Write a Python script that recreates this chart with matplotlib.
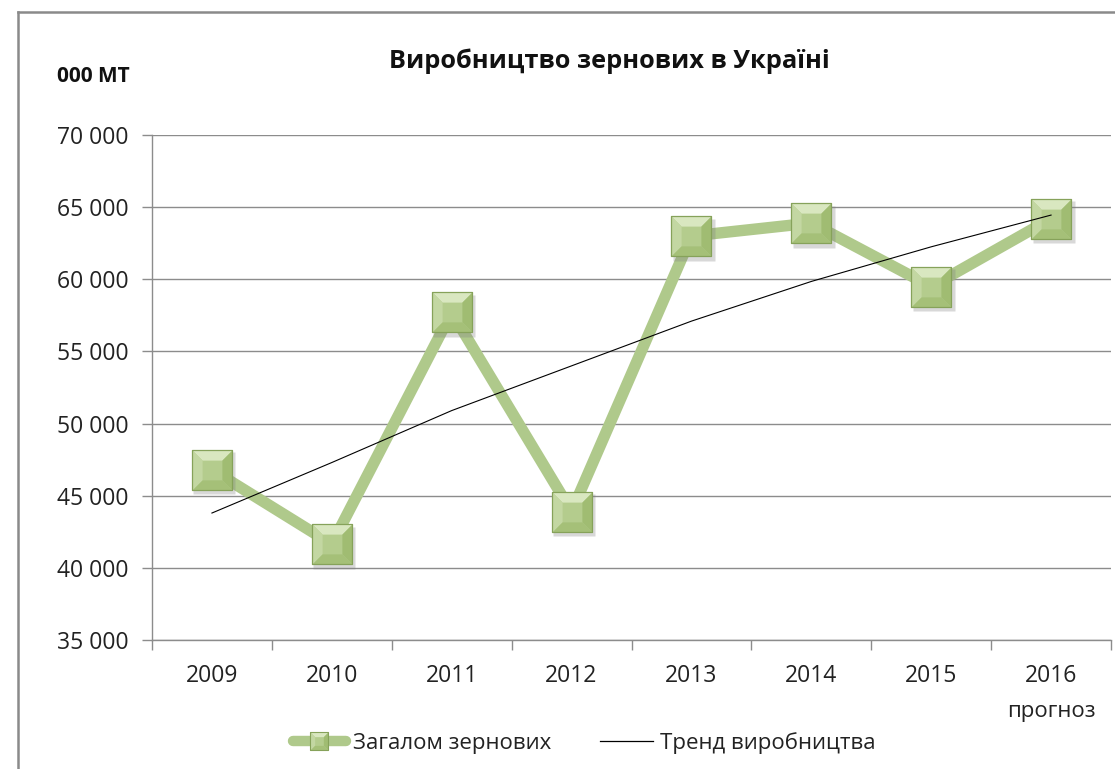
import matplotlib
matplotlib.use("Agg")
import matplotlib.pyplot as plt
import numpy as np
from matplotlib.path import Path
from matplotlib.lines import Line2D
from matplotlib.legend_handler import HandlerTuple
from matplotlib.ticker import FuncFormatter, FixedLocator
import matplotlib.transforms as mtransforms

plt.rcParams['font.family'] = ['Open Sans', 'DejaVu Sans']

# ---- data ----
years = ['2009', '2010', '2011', '2012', '2013', '2014', '2015', '2016']
production = [46800, 41650, 57700, 43900, 63000, 63900, 59500, 64200]
trend = [43800, 47300, 50900, 54000, 57100, 59850, 62250, 64450]
title = 'Виробництво зернових в Україні'
unit_label = '000 МТ'
series_label = 'Загалом зернових'
trend_label = 'Тренд виробництва'
forecast_note = 'прогноз'
y_ticks = [35000, 40000, 45000, 50000, 55000, 60000, 65000, 70000]

W, H = 1115, 769
fig = plt.figure(figsize=(W / 100, H / 100), dpi=100)
fig.patch.set_facecolor('white')

# outer chart frame (cropped at right/bottom)
fig.add_artist(Line2D([18 / W, 18 / W], [0, 1 - 12 / H], transform=fig.transFigure,
                      color='#8a8a8a', lw=1.8))
fig.add_artist(Line2D([18 / W, 1], [1 - 12 / H, 1 - 12 / H], transform=fig.transFigure,
                      color='#8a8a8a', lw=1.8))

left, right, top, bottom = 152, 1111, 135, 640
ax = fig.add_axes([left / W, 1 - bottom / H, (right - left) / W, (bottom - top) / H])
x = np.arange(len(years))

line_color = '#afc98b'
ax.plot(x, production, color=line_color, lw=8.2, zorder=3, solid_joinstyle='round')

# bevelled square markers
k = 0.5
sq = Path([(-1, -1), (1, -1), (1, 1), (-1, 1), (-1, -1)], closed=True)
f_top = Path([(-1, 1), (1, 1), (k, k), (-k, k), (-1, 1)], closed=True)
f_bot = Path([(-1, -1), (1, -1), (k, -k), (-k, -k), (-1, -1)], closed=True)
f_left = Path([(-1, -1), (-1, 1), (-k, k), (-k, -k), (-1, -1)], closed=True)
f_right = Path([(1, -1), (1, 1), (k, k), (k, -k), (1, -1)], closed=True)

ms = 28.5
base_col = '#b4cc8d'
edge_col = '#86a25a'
facets = [(f_top, '#d9e7c0'), (f_left, '#c3d7a2'), (f_right, '#a0bc72'), (f_bot, '#a5c078')]

shadow_tr = mtransforms.offset_copy(ax.transData, fig=fig, x=2.5, y=-3.5, units='dots')
ax.plot(x, production, ls='none', marker=sq, ms=ms + 1.5, mfc='#808080', mec='none',
        alpha=0.3, transform=shadow_tr, zorder=4)
ax.plot(x, production, ls='none', marker=sq, ms=ms, mfc=base_col, mec='none', zorder=5)
for p, c in facets:
    ax.plot(x, production, ls='none', marker=p, ms=ms, mfc=c, mec='none', zorder=6)
ax.plot(x, production, ls='none', marker=sq, ms=ms, mfc='none', mec=edge_col, mew=0.9, zorder=7)

ax.plot(x, trend, color='black', lw=0.8, zorder=8)

# axes styling
ax.set_xlim(-0.5, len(years) - 0.5)
ax.set_ylim(35000, 70000)
ax.yaxis.set_major_locator(FixedLocator(y_ticks))
ax.yaxis.set_major_formatter(FuncFormatter(lambda v, p: f'{int(v):,}'.replace(',', ' ')))
ax.grid(axis='y', color='#8c8c8c', lw=1.0)
ax.set_axisbelow(True)
for s in ['top', 'right']:
    ax.spines[s].set_visible(False)
for s in ['left', 'bottom']:
    ax.spines[s].set_color('#8c8c8c')
    ax.spines[s].set_linewidth(1.0)
ax.set_xticks(x)
ax.set_xticklabels(years)
ax.set_xticks(np.arange(-0.5, len(years), 1.0), minor=True)
ax.tick_params(axis='x', which='major', length=0, pad=17, labelsize=16.5, colors='#222222')
ax.tick_params(axis='x', which='minor', length=7, width=1.0, color='#8c8c8c')
ax.tick_params(axis='y', which='major', length=7, width=1.0, color='#8c8c8c', pad=10,
               labelsize=16.5, labelcolor='#222222')

# texts
fig.text(609 / W, 1 - 61 / H, title, ha='center', va='center', fontsize=18.3,
         fontweight='bold', color='#111111')
fig.text(57 / W, 1 - 76 / H, unit_label, ha='left', va='center', fontsize=15,
         fontweight='bold', color='#111111')
blend = mtransforms.blended_transform_factory(ax.transData, fig.transFigure)
ax.text(7, 1 - 712 / H, forecast_note, transform=blend, ha='center', va='center',
        fontsize=16, color='#222222')

# legend
lms = 12.5
leg_line = Line2D([], [], color=line_color, lw=7.5, solid_capstyle='round')
leg_marks = [Line2D([], [], ls='none', marker=sq, ms=lms, mfc=base_col, mec='none')]
for p, c in facets:
    leg_marks.append(Line2D([], [], ls='none', marker=p, ms=lms, mfc=c, mec='none'))
leg_marks.append(Line2D([], [], ls='none', marker=sq, ms=lms, mfc='none', mec=edge_col, mew=0.8))
trend_h = Line2D([], [], color='black', lw=0.9)
fig.legend([tuple([leg_line] + leg_marks), trend_h], [series_label, trend_label],
           handler_map={tuple: HandlerTuple(ndivide=1, pad=0)},
           loc='center', bbox_to_anchor=(584 / W, 1 - 743 / H), ncol=2, frameon=False,
           fontsize=16, handlelength=2.4, handletextpad=0.3, columnspacing=2.2,
           labelcolor='#222222')

fig.savefig('out.png', dpi=100, facecolor='white')
